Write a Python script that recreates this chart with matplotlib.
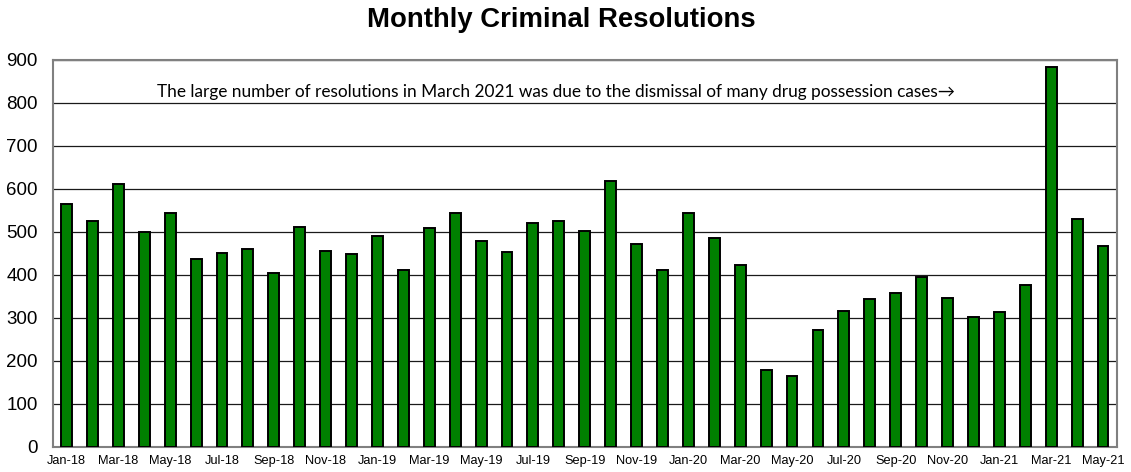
import matplotlib.pyplot as plt
import numpy as np

# Monthly resolutions, Jan-18 .. May-21
months = ['Jan-18', 'Feb-18', 'Mar-18', 'Apr-18', 'May-18', 'Jun-18', 'Jul-18', 'Aug-18',
          'Sep-18', 'Oct-18', 'Nov-18', 'Dec-18', 'Jan-19', 'Feb-19', 'Mar-19', 'Apr-19',
          'May-19', 'Jun-19', 'Jul-19', 'Aug-19', 'Sep-19', 'Oct-19', 'Nov-19', 'Dec-19',
          'Jan-20', 'Feb-20', 'Mar-20', 'Apr-20', 'May-20', 'Jun-20', 'Jul-20', 'Aug-20',
          'Sep-20', 'Oct-20', 'Nov-20', 'Dec-20', 'Jan-21', 'Feb-21', 'Mar-21', 'Apr-21',
          'May-21']
resolutions = [565, 525, 611, 499, 544, 438, 452, 461,
               404, 511, 456, 449, 491, 412, 509, 545,
               478, 453, 522, 525, 502, 618, 471, 412,
               543, 486, 423, 179, 165, 273, 316, 345,
               359, 395, 347, 303, 314, 377, 883, 530,
               467]
y_ticks = [0, 100, 200, 300, 400, 500, 600, 700, 800, 900]

note = ('The large number of resolutions in March 2021 was due to the dismissal '
        'of many drug possession cases\u2192')

plt.rcParams['font.family'] = ['Liberation Sans', 'DejaVu Sans']

fig = plt.figure(figsize=(11.31, 4.72), dpi=100)
ax = fig.add_axes([0.0469, 0.053, 0.9407, 0.820])

x = np.arange(len(months))
ax.bar(x, resolutions, width=0.42, color='#008000', edgecolor='black', linewidth=1.4, zorder=3)

ax.set_xlim(-0.52, len(months) - 0.46)
ax.set_ylim(0, 900)
ax.set_yticks(y_ticks)
ax.set_yticklabels([str(v) for v in y_ticks], fontsize=13.5)
ax.set_xticks(x[::2])
ax.set_xticklabels(months[::2], fontsize=9.2)
ax.tick_params(axis='y', length=0, pad=11)
ax.tick_params(axis='x', length=0, pad=6)

ax.yaxis.grid(True, color='#1a1a1a', linewidth=0.9, zorder=0)
ax.set_axisbelow(True)
for side in ['top', 'right', 'left', 'bottom']:
    ax.spines[side].set_color('#808080')
    ax.spines[side].set_linewidth(1.5)

ax.text(18.9, 826, note, ha='center', va='center', fontsize=12.4, family=['Lato', 'DejaVu Sans'])

fig.text(0.496, 0.957, 'Monthly Criminal Resolutions', ha='center', va='center',
         fontsize=19.8, fontweight='bold')

plt.savefig('out.png', dpi=100)
